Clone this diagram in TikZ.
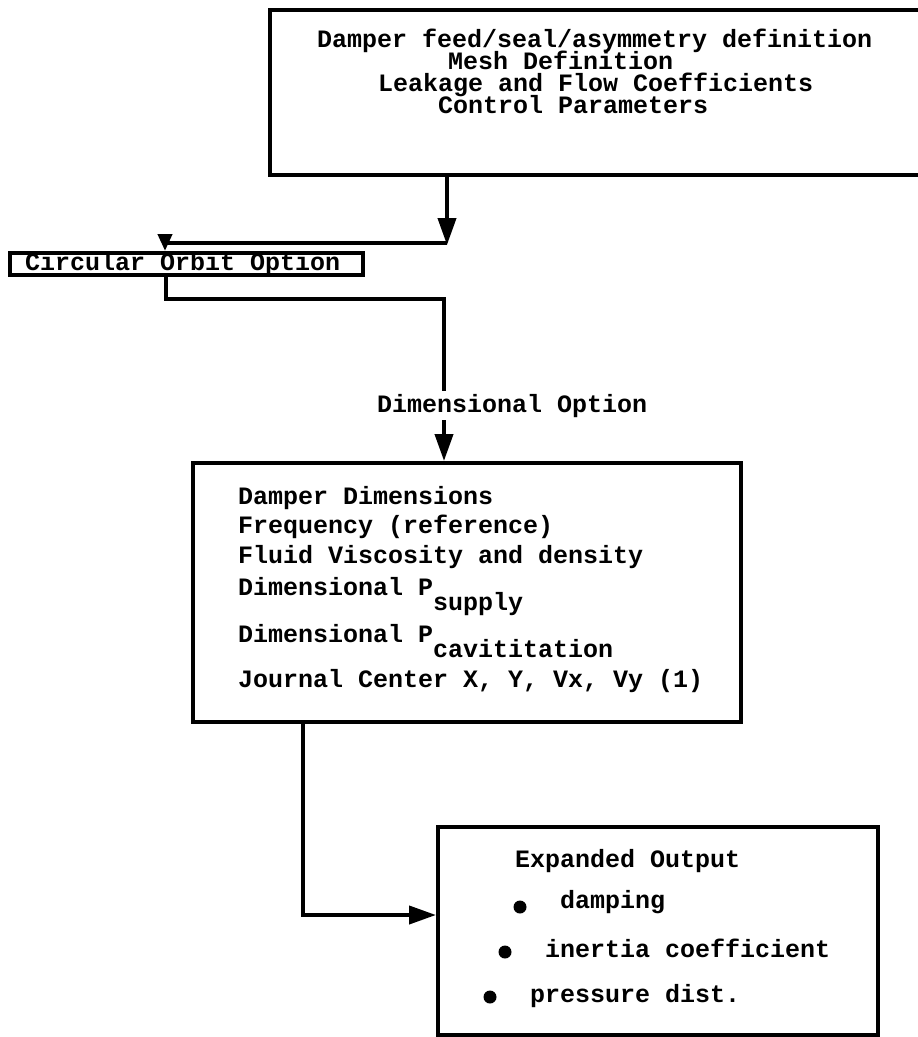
\documentclass[tikz,border=0pt]{standalone}
\usepackage{fontspec}
\newfontfamily\twfont{Liberation Mono}
\usetikzlibrary{arrows.meta}
\begin{document}
\begin{tikzpicture}[x=1pt,y=-1pt,
  box/.style={draw, line width=4pt, rectangle, inner sep=0pt},
  txt/.style={font=\twfont\bfseries\fontsize{25}{25}\selectfont, anchor=base west, inner sep=0pt},
  link/.style={line width=4pt},
  arr/.style={line width=4pt, -{Triangle[length=27pt,width=18pt]}},
  shortarr/.style={line width=4pt, -{Triangle[length=17pt,width=14pt]}},
  dot/.style={circle, fill, inner sep=0pt, minimum size=13pt}]
\useasboundingbox (0,0) rectangle (918,1037);
\clip (0,0) rectangle (918,1037);

% input definition block (runs off the right edge)
\node[box, minimum width=655pt, minimum height=165pt] (top) at (597.5,92.5) {};
\node[txt] (t1) at (317,47)  {Damper feed/seal/asymmetry definition};
\node[txt] (t2) at (448,69)  {Mesh Definition};
\node[txt] (t3) at (378,91)  {Leakage and Flow Coefficients};
\node[txt] (t4) at (438,113) {Control Parameters};

% circular orbit option
\node[box, minimum width=353pt, minimum height=22pt] (circ) at (186.5,264) {};
\node[txt] (ct) at (25,270) {Circular Orbit Option};

% dimensional option label
\node[txt, inner sep=3pt] (lbl) at (374,412) {Dimensional Option};

% dimensional data block
\node[box, minimum width=548pt, minimum height=259pt] (mid) at (467,592.5) {};
\node[txt] (m1) at (238,504) {Damper Dimensions};
\node[txt] (m2) at (238,533) {Frequency (reference)};
\node[txt] (m3) at (238,563) {Fluid Viscosity and density};
\node[txt] (m4) at (238,595) {Dimensional P\raisebox{-15pt}{supply}};
\node[txt] (m5) at (238,642) {Dimensional P\raisebox{-15pt}{cavititation}};
\node[txt] (m6) at (238,687) {Journal Center X, Y, Vx, Vy (1)};

% output block
\node[box, minimum width=440pt, minimum height=208pt] (bot) at (658,931) {};
\node[txt] (o1) at (515,867)  {Expanded Output};
\node[dot] (d1) at (520,907) {};
\node[txt] (o2) at (560,908)  {damping};
\node[dot] (d2) at (505,952) {};
\node[txt] (o3) at (545,957)  {inertia coefficient};
\node[dot] (d3) at (490,997) {};
\node[txt] (o4) at (530,1002) {pressure dist.};

% connectors
\coordinate (j1) at (447,243);
\coordinate (j2) at (165,243);
\coordinate (c1) at (166,299);
\coordinate (c2) at (444,299);
\coordinate (k1) at (303,915);

\draw[arr] (top.south -| j1) -- ([yshift=-2pt]j1);
\draw[link] (j1) -- (j2);
\draw[shortarr] ([yshift=-2pt]j2) -- (j2 |- circ.north);
\draw[link] (c1 |- circ.south) -- (c1) -- (c2) -- (c2 |- lbl.north);
\draw[arr] (c2 |- lbl.south) -- (c2 |- mid.north);
\draw[arr] (k1 |- mid.south) -- (k1) -- (k1 -| bot.west);
\end{tikzpicture}
\end{document}
